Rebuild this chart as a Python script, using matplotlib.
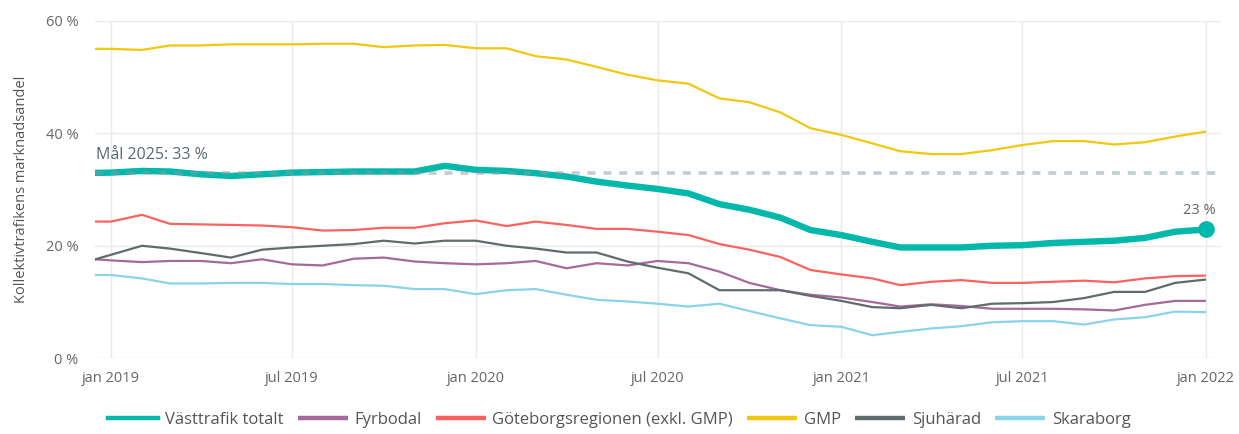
import matplotlib
matplotlib.use("Agg")
import matplotlib.pyplot as plt
import pandas as pd
import datetime as dt

plt.rcParams['font.family'] = ['Open Sans', 'DejaVu Sans']

months = pd.date_range('2018-12-01', '2022-01-01', freq='MS')

vasttrafik = [32.9, 33.0, 33.3, 33.2, 32.7, 32.4, 32.7, 33.0, 33.1, 33.2, 33.2, 33.2, 34.2,
              33.5, 33.3, 32.9, 32.3, 31.4, 30.7, 30.1, 29.3, 27.4, 26.4, 25.0, 22.8,
              21.9, 20.7, 19.7, 19.7, 19.7, 20.0, 20.1, 20.5, 20.7, 20.9, 21.4, 22.5, 22.9]
fyrbodal = [17.8, 17.4, 17.1, 17.3, 17.3, 16.9, 17.6, 16.7, 16.5, 17.7, 17.9, 17.2, 16.9,
            16.7, 16.9, 17.3, 16.0, 16.9, 16.5, 17.3, 16.9, 15.4, 13.4, 12.1, 11.3,
            10.8, 10.0, 9.2, 9.6, 9.3, 8.8, 8.8, 8.8, 8.7, 8.5, 9.5, 10.2, 10.2]
goteborg = [24.3, 24.3, 25.5, 23.9, 23.8, 23.7, 23.6, 23.3, 22.7, 22.8, 23.2, 23.2, 24.0,
            24.5, 23.5, 24.3, 23.7, 23.0, 23.0, 22.5, 21.9, 20.3, 19.3, 18.0, 15.7,
            14.9, 14.2, 13.0, 13.6, 13.9, 13.4, 13.4, 13.6, 13.8, 13.5, 14.2, 14.6, 14.7]
gmp = [55.0, 55.0, 54.8, 55.6, 55.6, 55.8, 55.8, 55.8, 55.9, 55.9, 55.3, 55.6, 55.7,
       55.1, 55.1, 53.7, 53.1, 51.8, 50.4, 49.4, 48.8, 46.2, 45.5, 43.7, 40.9,
       39.7, 38.2, 36.8, 36.3, 36.3, 37.0, 37.9, 38.6, 38.6, 38.0, 38.4, 39.4, 40.3]
sjuharad = [16.8, 18.4, 20.0, 19.5, 18.7, 17.9, 19.3, 19.7, 20.0, 20.3, 20.9, 20.4, 20.9,
            20.9, 20.0, 19.5, 18.8, 18.8, 17.2, 16.1, 15.1, 12.1, 12.1, 12.1, 11.1,
            10.2, 9.1, 8.9, 9.5, 8.9, 9.7, 9.8, 10.0, 10.7, 11.8, 11.8, 13.4, 14.0]
skaraborg = [14.8, 14.8, 14.2, 13.3, 13.3, 13.4, 13.4, 13.2, 13.2, 13.0, 12.9, 12.3, 12.3,
             11.4, 12.1, 12.3, 11.3, 10.4, 10.1, 9.7, 9.2, 9.7, 8.4, 7.1, 5.9,
             5.6, 4.1, 4.7, 5.3, 5.7, 6.4, 6.6, 6.6, 6.0, 6.9, 7.3, 8.3, 8.2]

series_names = ['Västtrafik totalt', 'Fyrbodal', 'Göteborgsregionen (exkl. GMP)',
                'GMP', 'Sjuhärad', 'Skaraborg']
series_values = [vasttrafik, fyrbodal, goteborg, gmp, sjuharad, skaraborg]
colors = ['#01B8AA', '#A66999', '#FD625E', '#F2C80F', '#5F6B6D', '#8AD4EB']

target_value = 33
target_label = 'Mål 2025: 33 %'
y_ticks = [0, 20, 40, 60]
x_tick_dates = pd.to_datetime(['2019-01-01', '2019-07-01', '2020-01-01', '2020-07-01',
                               '2021-01-01', '2021-07-01', '2022-01-01'])
x_tick_labels = ['jan 2019', 'jul 2019', 'jan 2020', 'jul 2020', 'jan 2021', 'jul 2021', 'jan 2022']
y_label = 'Kollektivtrafikens marknadsandel'

W, H = 1239, 434
fig = plt.figure(figsize=(W / 100, H / 100), dpi=100)
ax = fig.add_axes([95 / W, 1 - 358.3 / H, (1221 - 95) / W, (358.3 - 20.7) / H])

grid_c = '#EAEAEA'
for yv in y_ticks:
    ax.axhline(yv, color=grid_c, lw=1.0, zorder=0)
for xd in x_tick_dates:
    ax.axvline(xd, color=grid_c, lw=1.0, zorder=0)

lines = []
for name, vals, c in zip(series_names, series_values, colors):
    if name == 'Västtrafik totalt':
        continue
    ln, = ax.plot(months, vals, color=c, lw=1.6, label=name, zorder=2,
                  solid_joinstyle='round', solid_capstyle='butt')
    lines.append(ln)

main, = ax.plot(months, vasttrafik, color=colors[0], lw=4.6, label=series_names[0], zorder=3,
                solid_joinstyle='round')
ax.plot(months[-1:], vasttrafik[-1:], 'o', color=colors[0], ms=11, zorder=4)
ax.annotate(f'{round(vasttrafik[-1])} %', (months[-1], vasttrafik[-1]), xytext=(-5, 8),
            textcoords='offset points', ha='center', va='bottom', fontsize=10.5, color='#666666')

ax.axhline(target_value, color='#8A9BA5', alpha=0.5, lw=2.6, dashes=(2.2, 2.2), zorder=5)
ax.text(months[0] + pd.Timedelta(days=16), target_value + 1.7, target_label, fontsize=11.5,
        color='#5B6770', ha='left', va='bottom')

ax.set_xlim(dt.datetime(2018, 12, 16), dt.datetime(2022, 1, 16))
ax.set_ylim(0, 60)
ax.set_yticks(y_ticks)
ax.set_yticklabels([f'{v} %' for v in y_ticks])
ax.set_xticks(x_tick_dates)
ax.set_xticklabels(x_tick_labels)
ax.tick_params(axis='both', length=0, labelsize=10.5, colors='#666666')
ax.tick_params(axis='y', pad=12)
ax.tick_params(axis='x', pad=9)
for s in ax.spines.values():
    s.set_visible(False)
ax.set_ylabel(y_label, fontsize=10.5, color='#555555', labelpad=12)

handles = [main] + lines
fig.legend(handles=handles, labels=series_names, loc='center', bbox_to_anchor=(0.5, 0.032),
           ncol=6, frameon=False, fontsize=12, handlelength=3.0, handletextpad=0.4,
           columnspacing=0.85, labelcolor='#555555')
for lh in fig.legends[0].get_lines():
    lh.set_linewidth(3.2)

fig.savefig('out.png', dpi=100)
